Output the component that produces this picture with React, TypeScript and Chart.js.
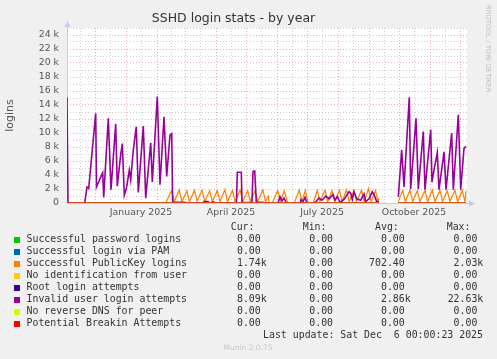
import React, { useEffect, useRef } from 'react';
import { Chart, registerables } from 'chart.js';

Chart.register(...registerables);

// ---- axis data (x = days since 3 Nov 2024, 1 day per step) ----
const monthStartDays = [28, 59, 90, 118, 149, 179, 210, 240, 271, 302, 332, 363, 393];
const midMonthDays = [13, 43, 74, 104, 133, 164, 194, 225, 255, 286, 317, 347, 378];
const quarterLabelDays = [74, 164, 255, 347];
const quarterLabels = ['January 2025', 'April 2025', 'July 2025', 'October 2025'];

// ---- legend / series meta ----
const seriesNames = [
  'Successful password logins',
  'Successful login via PAM',
  'Successful PublicKey logins',
  'No identification from user',
  'Root login attempts',
  'Invalid user login attempts',
  'No reverse DNS for peer',
  'Potential Breakin Attempts',
];
const seriesColors = ['#00CC00', '#0066B3', '#FF8000', '#FFCC00', '#330099', '#990099', '#CCFF00', '#FF0000'];
const curValues = ['0.00 ', '0.00 ', '1.74k', '0.00 ', '0.00 ', '8.09k', '0.00 ', '0.00 '];
const minValues = ['0.00 ', '0.00 ', '0.00 ', '0.00 ', '0.00 ', '0.00 ', '0.00 ', '0.00 '];
const avgValues = ['0.00 ', '0.00 ', '702.40 ', '0.00 ', '0.00 ', '2.86k', '0.00 ', '0.00 '];
const maxValues = ['0.00 ', '0.00 ', '2.03k', '0.00 ', '0.00 ', '22.63k', '0.00 ', '0.00 '];

// ---- series values as [day, logins] ----
const zeroPoints: [number, number | null][] = [
  [0, 0], [312, 0], [313, null], [331.3, 0], [399, 0],
];

const publicKeyPoints: [number, number | null][] = [
  [0, 0], [98.7, 0], [104.7, 1800], [107.3, 200], [112.3, 1850], [114.9, 200], [119.9, 1750], [122.5, 200],
  [127.5, 1800], [130.1, 250], [135.1, 1850], [137.7, 200], [142.7, 1750], [145.3, 200], [150.3, 1800],
  [152.9, 200], [157.9, 1900], [160.5, 200], [165.5, 1800], [168.1, 200], [173.1, 1850], [175.7, 200],
  [180.7, 1750], [183.3, 250], [188.3, 1800], [190.9, 200], [195.9, 1850], [198.5, 200], [201.3, 1000],
  [202, 0], [205.3, 0], [210.7, 1800], [213.3, 200], [217.3, 1750], [220.7, 0], [227.3, 0], [232.3, 1850],
  [234.9, 200], [238.3, 1800], [241, 0], [246.3, 0], [250.3, 1800], [252.9, 200], [258, 1850], [260.6, 200],
  [265, 1750], [267.6, 200], [272.5, 1800], [275.1, 200], [279.5, 1900], [282.1, 200], [287, 1800],
  [289.6, 200], [294.5, 1850], [297.1, 200], [301.5, 2030], [304.1, 200], [308.5, 1800], [311.1, 200],
  [312, 700], [313, null], [331.3, 200], [335.7, 1800], [338.3, 200], [343, 1850], [345.6, 200],
  [350.3, 1750], [352.9, 200], [358, 1800], [360.6, 200], [365.3, 1850], [367.9, 200], [373, 1800],
  [375.6, 200], [380.3, 1750], [382.9, 200], [388, 1850], [390.6, 200], [395.3, 1800], [397.9, 200],
  [399, 1740],
];

const invalidUserPoints: [number, number | null][] = [
  [0, 15100], [1, 0], [17.7, 0], [20, 2300], [21.7, 2100], [28.7, 12800], [29.5, 2300], [31.7, 3000],
  [34.3, 3900], [35.7, 4300], [36.7, 800], [41.3, 12100], [44, 1900], [48.7, 11300], [50.3, 2400],
  [53.7, 6900], [55.3, 8500], [57.3, 1100], [59.7, 2300], [62.3, 4700], [63.7, 3300], [66.3, 7600],
  [69.3, 10900], [71.3, 1500], [76.3, 11000], [78.7, 700], [83.7, 8600], [85.3, 3000], [90.3, 15200],
  [93, 2600], [97, 12300], [99.7, 3800], [103, 9700], [104.7, 9900], [105.7, 100], [118, 100], [119, 0],
  [136, 0], [137, 200], [141, 200], [142, 0], [144, 0], [145, 150], [147, 150], [148, 0], [169.5, 0],
  [170.3, 4400], [174.3, 4400], [175, 50], [185, 50], [186, 4500], [187.7, 4600], [189.3, 100], [196, 100],
  [197, 0], [211, 0], [213, 900], [215, 300], [217, 700], [219, 100], [220, 0], [233, 0], [234, 500],
  [236, 200], [238, 800], [240, 0], [247, 0], [249, 200], [252, 700], [255, 400], [259, 1000], [262, 600],
  [266, 1200], [268, 400], [270.3, 900], [273, 100], [277, 500], [282, 1600], [283.7, 1400], [285.3, 500],
  [287, 1600], [289.7, 600], [293.7, 400], [297, 1300], [298.7, 200], [302, 600], [305.3, 1600],
  [307, 1200], [309.7, 200], [312, 200], [313, null], [331.3, 900], [334.7, 7600], [337, 2300],
  [342.3, 15100], [343.7, 2000], [349, 12100], [351.3, 2000], [356.3, 10200], [358, 1900], [363.7, 10500],
  [365, 3000], [367, 4700], [370.3, 7200], [372, 1900], [377, 7300], [379, 1900], [384.7, 10000],
  [386.3, 1900], [391.3, 12600], [393.7, 1900], [397, 7800], [399, 8090],
];

const seriesPoints = [
  zeroPoints, zeroPoints, publicKeyPoints, zeroPoints, zeroPoints, invalidUserPoints, zeroPoints, zeroPoints,
];

const MAJOR = 'rgba(225, 110, 110, 0.55)';
const MINOR = 'rgba(150, 150, 150, 0.45)';
const AXIS = '#c4c8f2';

const muninPlugin = {
  id: 'muninExtras',
  beforeDraw(chart: any) {
    const { ctx, chartArea: a } = chart;
    ctx.save();
    ctx.fillStyle = '#F0F0F0';
    ctx.fillRect(0, 0, chart.width, chart.height);
    ctx.fillStyle = '#FFFFFF';
    ctx.fillRect(a.left, a.top, a.right - a.left, a.bottom - a.top);
    ctx.restore();
  },
  beforeDatasetsDraw(chart: any) {
    const { ctx, chartArea: a } = chart;
    ctx.save();
    ctx.strokeStyle = AXIS;
    ctx.lineWidth = 1;
    ctx.beginPath();
    ctx.moveTo(a.left + 0.5, a.bottom);
    ctx.lineTo(a.left + 0.5, a.top - 3);
    ctx.moveTo(a.left, a.bottom + 0.5);
    ctx.lineTo(a.right + 3, a.bottom + 0.5);
    ctx.stroke();
    ctx.restore();
  },
  afterDraw(chart: any) {
    const { ctx, chartArea: a } = chart;
    ctx.save();
    // arrows
    ctx.fillStyle = AXIS;
    ctx.beginPath();
    ctx.moveTo(a.left - 2.5, a.top - 1);
    ctx.lineTo(a.left + 3.5, a.top - 1);
    ctx.lineTo(a.left + 0.5, a.top - 7);
    ctx.closePath();
    ctx.fill();
    ctx.beginPath();
    ctx.moveTo(a.right + 2, a.bottom - 2.5);
    ctx.lineTo(a.right + 2, a.bottom + 3.5);
    ctx.lineTo(a.right + 8, a.bottom + 0.5);
    ctx.closePath();
    ctx.fill();

    // vertical credit
    ctx.save();
    ctx.translate(487.5, 5);
    ctx.rotate(Math.PI / 2);
    ctx.font = '6.8px "DejaVu Sans"';
    ctx.fillStyle = '#bdbdbd';
    ctx.textBaseline = 'middle';
    ctx.textAlign = 'left';
    ctx.fillText('RRDTOOL / TOBI OETIKER', 0, 0);
    ctx.restore();

    // legend table
    ctx.font = '9.9px "DejaVu Sans Mono"';
    ctx.fillStyle = '#333';
    ctx.textBaseline = 'middle';
    ctx.textAlign = 'left';
    const headerY = 227.7;
    ctx.fillText('Cur:', 230.7, headerY);
    ctx.fillText('Min:', 302.7, headerY);
    ctx.fillText('Avg:', 375, headerY);
    ctx.fillText('Max:', 446.7, headerY);
    const colRight = [266.7, 339, 410.7, 483.3];
    const cols = [curValues, minValues, avgValues, maxValues];
    seriesNames.forEach((name, i) => {
      const y = 239.7 + 12 * i;
      ctx.fillStyle = seriesColors[i];
      ctx.fillRect(14, Math.round(y) - 3, 6, 6);
      ctx.fillStyle = '#333';
      ctx.textAlign = 'left';
      ctx.fillText(name, 26.5, y);
      ctx.textAlign = 'right';
      cols.forEach((c, j) => ctx.fillText(c[i], colRight[j], y));
    });
    ctx.textAlign = 'right';
    ctx.fillText('Last update: Sat Dec  6 00:00:23 2025', 483, 335);

    ctx.font = '7.5px "DejaVu Sans"';
    ctx.fillStyle = '#c8c8c8';
    ctx.textAlign = 'center';
    ctx.fillText('Munin 2.0.75', 248, 348);
    ctx.restore();
  },
};

export default function App() {
  const canvasRef = useRef<HTMLCanvasElement | null>(null);

  useEffect(() => {
    if (!canvasRef.current) return;
    Chart.defaults.font.family = '"DejaVu Sans"';
    const xTicks = [...monthStartDays, ...midMonthDays].sort((p, q) => p - q);

    const datasets = seriesPoints.map((pts, i) => ({
      label: seriesNames[i],
      data: pts.map(([d, v]) => ({ x: d, y: v })),
      borderColor: seriesColors[i],
      backgroundColor: seriesColors[i],
      borderWidth: i === 5 ? 1.6 : 1.2,
      pointRadius: 0,
      tension: 0,
      fill: false,
      spanGaps: false,
      order: 7 - i,
    }));

    const chart = new Chart(canvasRef.current, {
      type: 'line',
      data: { datasets: datasets as any },
      plugins: [muninPlugin as any],
      options: {
        animation: false,
        responsive: false,
        devicePixelRatio: 1,
        parsing: false as any,
        normalized: true,
        layout: { padding: { left: 0, right: 30, top: 0, bottom: 0 } },
        plugins: {
          legend: { display: false },
          tooltip: { enabled: false },
          title: {
            display: true,
            text: 'SSHD login stats - by year',
            color: '#333',
            font: { family: '"DejaVu Sans"', size: 12.5, weight: 'normal' as any },
            padding: { top: 11, bottom: 2 },
          },
        },
        scales: {
          x: {
            type: 'linear',
            min: 0,
            max: 400,
            afterBuildTicks: (scale: any) => {
              scale.ticks = xTicks.map((v) => ({ value: v }));
            },
            afterFit: (scale: any) => {
              scale.height = 156;
            },
            ticks: {
              autoSkip: false,
              maxRotation: 0,
              minRotation: 0,
              padding: 4,
              color: '#555',
              font: { family: '"DejaVu Sans"', size: 9.4 },
              callback: (value: any) => {
                const idx = quarterLabelDays.indexOf(Number(value));
                return idx >= 0 ? quarterLabels[idx] : '';
              },
            },
            grid: {
              drawTicks: false,
              lineWidth: 1,
              color: (c: any) => (c.tick && monthStartDays.includes(c.tick.value) ? MAJOR : MINOR),
            },
            border: { display: false, dash: [1, 2] },
          },
          y: {
            type: 'linear',
            min: 0,
            max: 25000,
            afterFit: (scale: any) => {
              scale.width = 67;
            },
            title: {
              display: true,
              text: 'logins',
              color: '#555',
              font: { family: '"DejaVu Sans"', size: 11 },
              padding: { top: 4, bottom: 0 },
            },
            ticks: {
              stepSize: 1000,
              padding: 8,
              color: '#555',
              font: { family: '"DejaVu Sans"', size: 9.4 },
              autoSkip: false,
              callback: (value: any) => {
                const v = Number(value);
                if (v % 2000 !== 0) return '';
                return v === 0 ? '0' : `${v / 1000} k`;
              },
            },
            grid: {
              drawTicks: false,
              lineWidth: 1,
              color: (c: any) => (c.tick && c.tick.value % 2000 === 0 ? MAJOR : MINOR),
            },
            border: { display: false, dash: [1, 2] },
          },
        },
      },
    });
    return () => chart.destroy();
  }, []);

  return (
    <div style={{ position: 'absolute', left: 0, top: 0, width: 497, height: 359, background: '#F0F0F0' }}>
      <canvas ref={canvasRef} width={497} height={359} style={{ width: 497, height: 359, display: 'block' }} />
    </div>
  );
}
